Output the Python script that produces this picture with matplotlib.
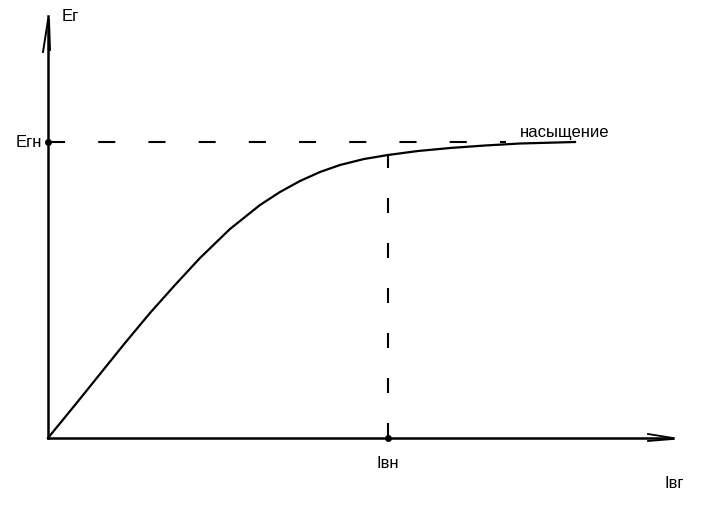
import matplotlib
matplotlib.use('Agg')
import matplotlib.pyplot as plt

# magnetisation curve of the generator, Ег against Iвг (arbitrary units, origin at axis corner)
i_vals = [0, 27, 52, 77, 102, 127, 152, 182, 212, 232, 252, 272, 292, 316, 340,
          370, 402, 437, 472, 527]
e_vals = [0, 33, 64, 95, 125, 153, 180, 209, 233, 246, 257, 266, 273, 279, 283,
          287, 290, 292.5, 294.5, 296]

i_nom = 340      # Iвн
e_nom = 296      # Егн
i_axis_end = 625
e_axis_end = 422
dash_end = 458

plt.rcParams['font.family'] = ['Liberation Sans', 'DejaVu Sans']

fig = plt.figure(figsize=(7.06, 5.09), dpi=100)
ax = fig.add_axes([0, 0, 1, 1])
ax.set_xlim(-48, 658)
ax.set_ylim(-71, 438)
ax.axis('off')

# axes with hand-drawn style arrows
ax.plot([0, 0], [0, e_axis_end], c='k', lw=1.8)
ax.plot([-5, 0], [386, 418], c='k', lw=1.4)
ax.plot([2, 1], [388, 418], c='k', lw=1.4)
ax.plot([0, i_axis_end], [0, 0], c='k', lw=1.8)
ax.plot([600, i_axis_end], [4, 0], c='k', lw=1.3)
ax.plot([600, i_axis_end], [-3, -1], c='k', lw=1.3)

# curve
ax.plot(i_vals, e_vals, c='k', lw=1.6, solid_joinstyle='round')

# nominal point guides
ax.plot([0, dash_end], [e_nom, e_nom], c='k', lw=1.5, ls=(0, (8.2, 15.9)))
ax.plot([i_nom, i_nom], [0, 272], c='k', lw=1.5, ls=(0, (7.2, 14.4)))
ax.plot([i_nom, i_nom], [272, 283], c='k', lw=1.5)
ax.plot([i_nom, i_nom], [0, 8], c='k', lw=1.3)
ax.plot([0], [e_nom], 'ko', ms=4)
ax.plot([i_nom], [0], 'ko', ms=4)

# labels
fs = 12
ax.text(14, 422, 'Ег', fontsize=fs, ha='left', va='center')
ax.text(-6, e_nom, 'Егн', fontsize=fs, ha='right', va='center')
ax.text(i_nom, -26, 'Iвн', fontsize=fs, ha='center', va='center')
ax.text(626, -46, 'Iвг', fontsize=fs, ha='center', va='center')
ax.text(472, 306, 'насыщение', fontsize=fs, ha='left', va='center')

fig.savefig('out.png', dpi=100)
